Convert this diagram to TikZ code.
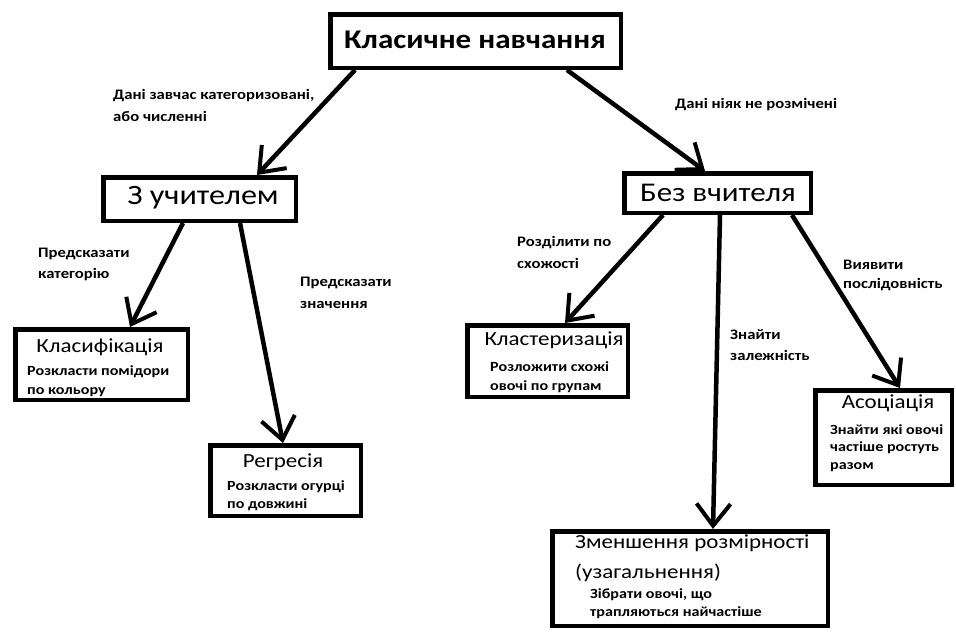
\documentclass[tikz,border=0pt]{standalone}
\usepackage{fontspec}
\setmainfont{Carlito}[FakeStretch=1.15]
\usetikzlibrary{arrows.meta}
\tikzset{
  box/.style={draw, line width=4.5pt, inner sep=0pt},
  conn/.style={line width=4.5pt, -{Straight Barb[length=22pt,width=34pt,line width=4pt]}},
  lbl/.style={font=\fontsize{14.5}{16}\selectfont\bfseries, anchor=west, inner sep=0pt, align=left},
  ttl/.style={font=\fontsize{20}{22}\selectfont, inner sep=0pt},
  sub/.style={font=\fontsize{14}{15}\selectfont\bfseries, anchor=west, inner sep=0pt},
}
\begin{document}
\begin{tikzpicture}[x=1pt,y=-1pt]
\useasboundingbox (0,0) rectangle (956,633);
% boxes
\node[box, minimum width=290.5pt, minimum height=53.5pt] (top) at (475.5,41) {};
\node[box, minimum width=192.5pt, minimum height=43.5pt] (zu) at (199.5,199) {};
\node[box, minimum width=186.5pt, minimum height=39.5pt] (bv) at (717.5,193) {};
\node[box, minimum width=172.5pt, minimum height=70.5pt] (kf) at (101.5,364.5) {};
\node[box, minimum width=150.5pt, minimum height=70.5pt] (rg) at (285.5,480.5) {};
\node[box, minimum width=160.5pt, minimum height=71.5pt] (kl) at (547.5,361) {};
\node[box, minimum width=136.5pt, minimum height=94.5pt] (as) at (883.5,437.5) {};
\node[box, minimum width=275.5pt, minimum height=94.5pt] (zm) at (690,578.5) {};
% box texts
\node[font=\fontsize{27}{28}\selectfont\bfseries, inner sep=0pt] (topt) at (475,40) {Класичне навчання};
\node[font=\fontsize{28}{29}\selectfont, inner sep=0pt] (zut) at (203,198) {З учителем};
\node[font=\fontsize{27}{28}\selectfont, inner sep=0pt] (bvt) at (718,193) {Без вчителя};
\node[ttl] (kft) at (100,347) {Класифікація};
\node[sub] (kfs1) at (27,372) {Розкласти помідори};
\node[sub] (kfs2) at (27,392) {по кольору};
\node[ttl] (rgt) at (283,462) {Регресія};
\node[sub] (rgs1) at (227,487) {Розкласти огурці};
\node[sub] (rgs2) at (227,505) {по довжині};
\node[ttl] (klt) at (554,340) {Кластеризація};
\node[sub] (kls1) at (490,367) {Розложити схожі};
\node[sub] (kls2) at (490,387) {овочі по групам};
\node[ttl] (ast) at (888,403) {Асоціація};
\node[sub] (ass1) at (830,430) {Знайти які овочі};
\node[sub] (ass2) at (830,448) {частіше ростуть};
\node[sub] (ass3) at (830,467) {разом};
\node[ttl, anchor=west] (zmt1) at (575,543) {Зменшення розмірності};
\node[ttl, anchor=west] (zmt2) at (575,573) {(узагальнення)};
\node[sub] (zms1) at (590,595) {Зібрати овочі, що};
\node[sub] (zms2) at (590,613) {трапляються найчастіше};
% connectors
\draw[conn] (top.south -| 355,0) -- (zu.north -| 257,0);
\draw[conn] (top.south -| 567,0) -- (bv.north -| 705,0);
\draw[conn] (zu.south -| 183,0) -- (kf.north -| 130,0);
\draw[conn] (zu.south -| 240,0) -- (rg.north -| 283,0);
\draw[conn] (bv.south -| 663,0) -- (kl.north -| 565,0);
\draw[conn] (bv.south -| 720,0) -- (zm.north -| 713,0);
\draw[conn] (bv.south -| 792,0) -- (as.north -| 900,0);
% edge labels
\node[lbl] (l1a) at (113,96) {Дані завчас категоризовані,};
\node[lbl] (l1b) at (113,116) {або численні};
\node[lbl] (l2) at (675,105) {Дані ніяк не розмічені};
\node[lbl] (l3a) at (38,254) {Предсказати};
\node[lbl] (l3b) at (38,275) {категорію};
\node[lbl] (l4a) at (300,283) {Предсказати};
\node[lbl] (l4b) at (300,305) {значення};
\node[lbl] (l5a) at (517,243) {Розділити по};
\node[lbl] (l5b) at (517,263) {схожості};
\node[lbl] (l6a) at (730,335) {Знайти};
\node[lbl] (l6b) at (730,355) {залежність};
\node[lbl] (l7a) at (843,265) {Виявити};
\node[lbl] (l7b) at (843,285) {послідовність};
\end{tikzpicture}
\end{document}
